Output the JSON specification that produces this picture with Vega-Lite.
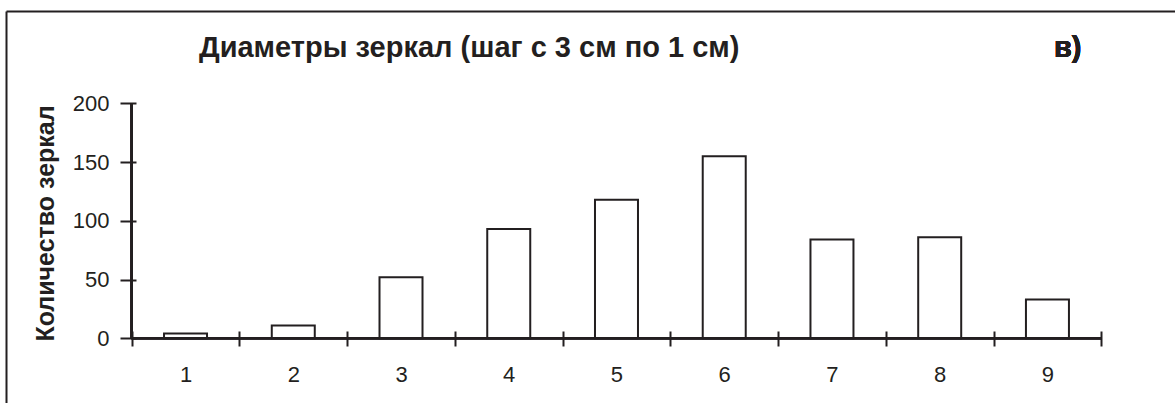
{
  "$schema": "https://vega.github.io/schema/vega-lite/v6.json",
  "autosize": {"type": "none"},
  "padding": {"left": 6, "top": 11, "right": 0, "bottom": 0},
  "width": 1169,
  "height": 392,
  "background": "white",
  "config": {
    "view": {"stroke": null},
    "font": "Liberation Sans",
    "axis": {"grid": false}
  },
  "title": {
    "text": "Диаметры зеркал (шаг с 3 см по 1 см)",
    "anchor": "start",
    "frame": "group",
    "dx": 193,
    "offset": -75,
    "baseline": "alphabetic",
    "font": "Liberation Sans",
    "fontSize": 29,
    "fontWeight": "bold",
    "color": "#231f20"
  },
  "data": {
    "values": [
      {"d": 1, "n": 4},
      {"d": 2, "n": 11},
      {"d": 3, "n": 52},
      {"d": 4, "n": 93},
      {"d": 5, "n": 118},
      {"d": 6, "n": 155},
      {"d": 7, "n": 84},
      {"d": 8, "n": 86},
      {"d": 9, "n": 33}
    ]
  },
  "layer": [
    {
      "mark": {"type": "bar", "fill": "white", "stroke": "#231f20", "strokeWidth": 2, "width": 43},
      "encoding": {
        "x": {
          "field": "d", "type": "quantitative",
          "scale": {"domain": [-0.6199, 10.1375], "nice": false, "zero": false},
          "axis": {
            "orient": "bottom", "offset": -72, "domain": false,
            "values": [0.5, 1, 1.5, 2, 2.5, 3, 3.5, 4, 4.5, 5, 5.5, 6, 6.5, 7, 7.5, 8, 8.5, 9, 9.5],
            "tickSize": 15, "tickWidth": 2, "tickColor": "#231f20",
            "tickOpacity": {"condition": {"test": "datum.value % 1 === 0", "value": 0}, "value": 1},
            "labelExpr": "datum.value % 1 === 0 ? format(datum.value, 'd') : ''",
            "labelPadding": 18, "labelFontSize": 22, "labelColor": "#231f20",
            "labelOverlap": false, "labelFlush": false, "labelBound": false,
            "title": null
          }
        },
        "y": {
          "field": "n", "type": "quantitative",
          "scale": {"domain": [-55.06, 278.55], "nice": false, "zero": false},
          "axis": {
            "orient": "left", "offset": -130, "domain": false,
            "values": [0, 50, 100, 150, 200],
            "tickSize": 16, "tickWidth": 2, "tickColor": "#231f20",
            "labelPadding": 11, "labelFontSize": 22, "labelColor": "#231f20",
            "labelOverlap": false, "labelFlush": false, "labelBound": false,
            "title": "Количество зеркал",
            "titleFontSize": 25, "titleFontWeight": "bold", "titleColor": "#231f20",
            "titlePadding": 14, "titleY": 212
          }
        }
      }
    },
    {
      "mark": {"type": "rule", "stroke": "#231f20", "strokeWidth": 2},
      "encoding": {
        "x": {
          "datum": 0.5, "type": "quantitative",
          "axis": {"orient": "top", "offset": 0, "domain": true, "domainWidth": 2, "domainColor": "#231f20", "ticks": false, "labels": false, "title": null, "grid": false}
        },
        "x2": {"datum": 9.5},
        "y": {
          "datum": 0, "type": "quantitative",
          "axis": {"orient": "left", "offset": 0, "domain": true, "domainWidth": 2, "domainColor": "#231f20", "ticks": false, "labels": false, "title": null, "grid": false}
        }
      }
    },
    {
      "mark": {"type": "rule", "stroke": "#231f20", "strokeWidth": 2},
      "encoding": {
        "x": {"datum": 0.5, "type": "quantitative", "axis": null},
        "y": {"datum": 0, "type": "quantitative", "axis": null},
        "y2": {"datum": 200}
      }
    },
    {
      "mark": {"type": "text", "text": "в)", "align": "left", "baseline": "alphabetic", "font": "Liberation Sans", "fontSize": 29, "fontWeight": "bold", "fill": "#231f20"},
      "encoding": {
        "x": {"datum": 9.06, "type": "quantitative", "axis": null},
        "y": {"datum": 239.4, "type": "quantitative", "axis": null}
      }
    }
  ],
  "resolve": {"axis": {"x": "independent", "y": "independent"}}
}
